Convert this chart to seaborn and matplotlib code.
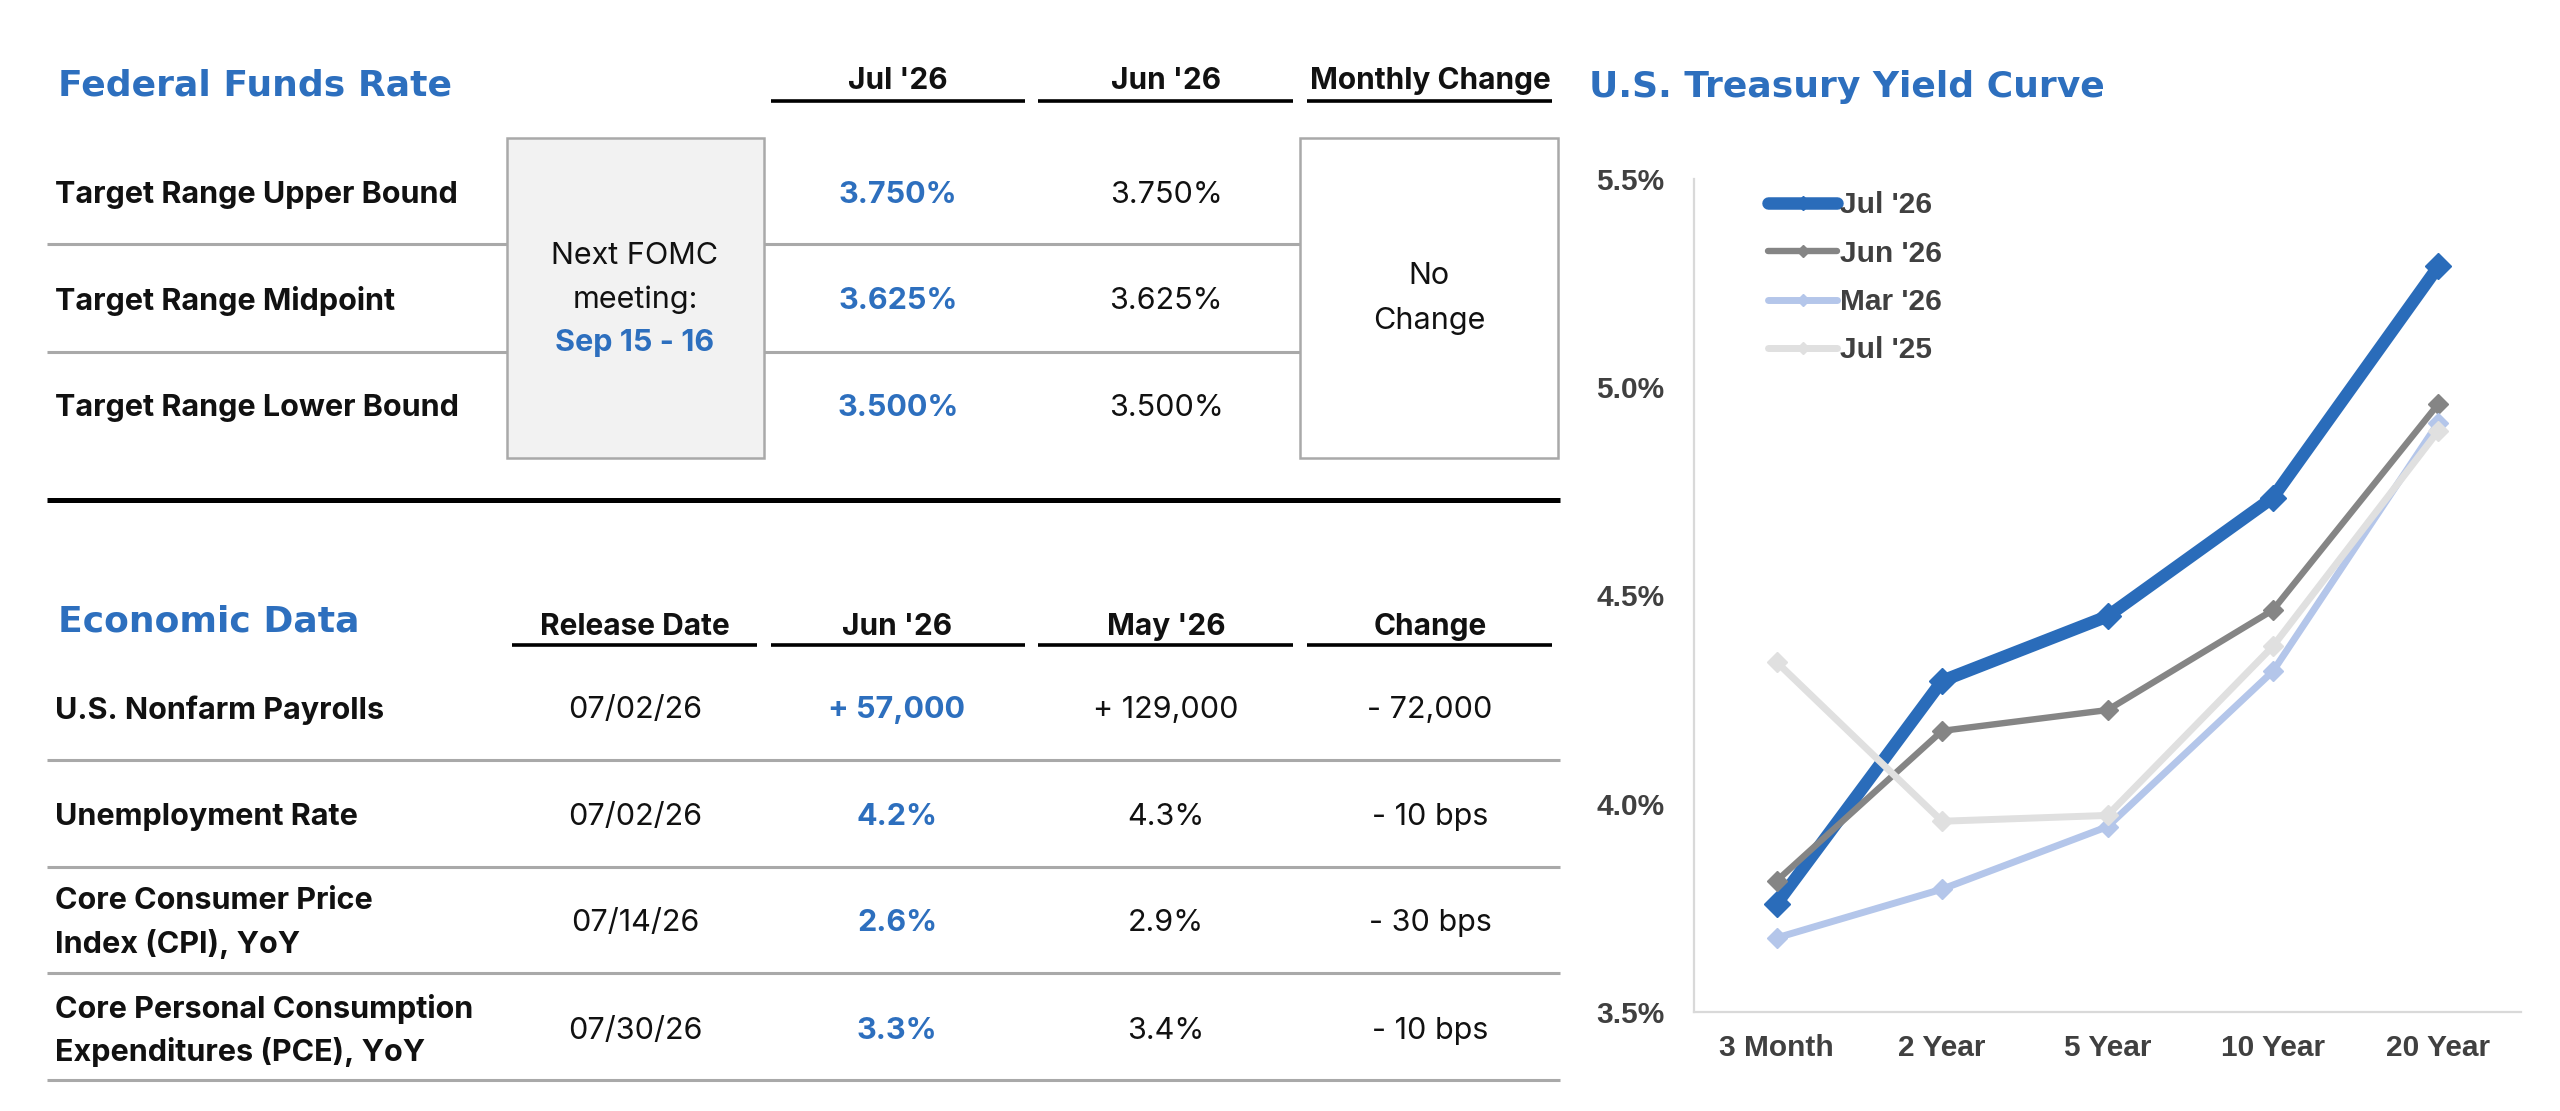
import numpy as np
import pandas as pd
import matplotlib
matplotlib.use("Agg")
import matplotlib.pyplot as plt
import seaborn as sns
from matplotlib.lines import Line2D
from matplotlib.patches import Rectangle

# ---------------- data ----------------
maturities = ["3 Month", "2 Year", "5 Year", "10 Year", "20 Year"]
series_names = ["Jul '26", "Jun '26", "Mar '26", "Jul '25"]
yield_jul26 = [3.76, 4.295, 4.45, 4.735, 5.29]
yield_jun26 = [3.815, 4.175, 4.225, 4.465, 4.96]
yield_mar26 = [3.678, 3.795, 3.945, 4.318, 4.915]
yield_jul25 = [4.34, 3.958, 3.972, 4.378, 4.895]
y_ticks = [3.5, 4.0, 4.5, 5.0, 5.5]
y_tick_labels = ["3.5%", "4.0%", "4.5%", "5.0%", "5.5%"]

fed_title = "Federal Funds Rate"
fed_headers = ["Jul '26", "Jun '26", "Monthly Change"]
fed_labels = ["Target Range Upper Bound", "Target Range Midpoint", "Target Range Lower Bound"]
fed_current = ["3.750%", "3.625%", "3.500%"]
fed_prior = ["3.750%", "3.625%", "3.500%"]
fomc_lines = ["Next FOMC", "meeting:", "Sep 15 - 16"]
monthly_change_lines = ["No", "Change"]

econ_title = "Economic Data"
econ_headers = ["Release Date", "Jun '26", "May '26", "Change"]
econ_labels = [["U.S. Nonfarm Payrolls"], ["Unemployment Rate"],
               ["Core Consumer Price", "Index (CPI), YoY"],
               ["Core Personal Consumption", "Expenditures (PCE), YoY"]]
econ_release = ["07/02/26", "07/02/26", "07/14/26", "07/30/26"]
econ_current = ["+ 57,000", "4.2%", "2.6%", "3.3%"]
econ_prior = ["+ 129,000", "4.3%", "2.9%", "3.4%"]
econ_change = ["- 72,000", "- 10 bps", "- 30 bps", "- 10 bps"]

chart_title = "U.S. Treasury Yield Curve"

# ---------------- style ----------------
BLUE = "#2d6fbe"
TXT = "#111111"
GRID = "#a9a9a9"
series_colors = ["#2a6cba", "#858585", "#b4c6ea", "#e0e0e0"]
series_lw = [9.0, 4.6, 5.0, 5.0]
series_ms = [13, 10.5, 10.5, 10.5]

sns.set_theme(style="white")
plt.rcParams["font.family"] = ["Inter", "DejaVu Sans"]

W, H = 2560, 1111
fig = plt.figure(figsize=(W / 100, H / 100), dpi=100)
fig.patch.set_facecolor("white")

# table canvas in pixel coordinates
tb = fig.add_axes([0, 0, 1, 1])
tb.set_xlim(0, W)
tb.set_ylim(H, 0)
tb.axis("off")

BODY = 22.0
TITLE_FONT = ["DejaVu Sans"]


def txt(x, y, s, ha="center", color=TXT, weight="normal", size=BODY, family=None):
    kw = {}
    if family is not None:
        kw["family"] = family
    tb.text(x, y + 3, s, ha=ha, va="center", color=color, fontsize=size,
            fontweight=weight, **kw)


def hline(x0, x1, y, color, lw):
    tb.plot([x0, x1], [y, y], color=color, lw=lw, solid_capstyle="butt")


# ---- Federal funds table ----
tb.text(58, 85, fed_title, ha="left", va="center", color=BLUE, fontsize=26,
        fontweight="bold", family=TITLE_FONT)
fed_cols = [898, 1166, 1430]
fed_under = [(771, 1025), (1038, 1293), (1307, 1552)]
for cx, (u0, u1), h in zip(fed_cols, fed_under, fed_headers):
    txt(cx, 78, h, weight="bold", size=21.5)
    hline(u0, u1, 101, "#000000", 2.6)

fed_rows = [192, 298, 405]
for y in [244, 352]:
    hline(47, 507, y, GRID, 2.2)
    hline(764, 1300, y, GRID, 2.2)
tb.add_patch(Rectangle((507, 138), 257, 320, facecolor="#f2f2f2", edgecolor=GRID, lw=1.8))
tb.add_patch(Rectangle((1300, 138), 258, 320, facecolor="white", edgecolor=GRID, lw=1.8))
for y, lab, cur, pri in zip(fed_rows, fed_labels, fed_current, fed_prior):
    txt(55, y, lab, ha="left", weight="bold")
    txt(fed_cols[0], y, cur, color=BLUE, weight="bold")
    txt(fed_cols[1], y, pri)
for y, s in zip([253, 297, 340], fomc_lines):
    if s.startswith("Sep"):
        txt(635, y, s, color=BLUE, weight="bold")
    else:
        txt(635, y, s)
for y, s in zip([273, 318], monthly_change_lines):
    txt(1429, y, s)

hline(47, 1560, 500, "#000000", 3.6)

# ---- Economic data table ----
tb.text(58, 622, econ_title, ha="left", va="center", color=BLUE, fontsize=26,
        fontweight="bold", family=TITLE_FONT)
econ_cols = [635, 897, 1166, 1430]
econ_under = [(512, 757), (771, 1025), (1038, 1293), (1307, 1552)]
for cx, (u0, u1), h in zip(econ_cols, econ_under, econ_headers):
    txt(cx, 624, h, weight="bold", size=21.5)
    hline(u0, u1, 645, "#000000", 2.6)

econ_rows = [707, 814, 920, 1028]
for y in [760, 867, 973, 1080]:
    hline(47, 1560, y, GRID, 2.2)
for y, lab, rel, cur, pri, chg in zip(econ_rows, econ_labels, econ_release,
                                      econ_current, econ_prior, econ_change):
    if len(lab) == 1:
        txt(55, y, lab[0], ha="left", weight="bold")
    else:
        txt(55, y - 22, lab[0], ha="left", weight="bold")
        txt(55, y + 21, lab[1], ha="left", weight="bold")
    txt(econ_cols[0], y, rel)
    txt(econ_cols[1], y, cur, color=BLUE, weight="bold")
    txt(econ_cols[2], y, pri)
    txt(econ_cols[3], y, chg)

# ---------------- yield curve chart ----------------
df = pd.DataFrame({
    "maturity": maturities * 4,
    "yield": yield_jul26 + yield_jun26 + yield_mar26 + yield_jul25,
    "series": sum([[s] * len(maturities) for s in series_names], []),
})

ax = fig.add_axes([1694 / W, 1 - 1012 / H, (2521 - 1694) / W, (1012 - 179) / H])
ax.set_facecolor("none")
for i, (name, col, lw, ms) in enumerate(zip(series_names, series_colors, series_lw, series_ms)):
    sub = df[df["series"] == name]
    sns.lineplot(data=sub, x="maturity", y="yield", ax=ax, color=col, linewidth=lw,
                 marker="D", markersize=ms, markeredgecolor=col, markeredgewidth=1,
                 sort=False, errorbar=None, legend=False, zorder=2 + i)

CH = "#404040"
CHFONT = ["Liberation Sans", "DejaVu Sans"]
ax.set_xlim(-0.5, len(maturities) - 0.5)
ax.set_ylim(y_ticks[0], y_ticks[-1])
ax.set_xticks(range(len(maturities)))
ax.set_xticklabels(maturities)
ax.set_xticks(np.arange(-0.5, len(maturities), 1.0), minor=True)
ax.set_yticks(y_ticks)
ax.set_yticklabels(y_tick_labels)
ax.set_xlabel("")
ax.set_ylabel("")
ax.tick_params(axis="x", which="major", length=0, pad=15.5)
ax.tick_params(axis="x", which="minor", length=7, width=1.5, color="#d9d9d9", direction="out")
ax.tick_params(axis="y", length=0, pad=21.5)
for lab in ax.get_xticklabels() + ax.get_yticklabels():
    lab.set_fontfamily(CHFONT)
    lab.set_fontweight("bold")
    lab.set_fontsize(21.5)
    lab.set_color(CH)
for sp in ["top", "right"]:
    ax.spines[sp].set_visible(False)
for sp in ["left", "bottom"]:
    ax.spines[sp].set_color("#d9d9d9")
    ax.spines[sp].set_linewidth(1.6)
ax.grid(False)

handles = [Line2D([0], [0], color=c, lw=lw, marker="D", markersize=ms * 0.55,
                  markeredgecolor=c) for c, lw, ms in zip(series_colors, series_lw, series_ms)]
leg = ax.legend(handles, series_names, loc="upper left", bbox_to_anchor=(0.09, 0.985),
                frameon=False, borderpad=0, borderaxespad=0, handlelength=2.3,
                handletextpad=0.1, labelspacing=0.68,
                prop={"family": CHFONT, "weight": "bold", "size": 21.5})
for t in leg.get_texts():
    t.set_color(CH)

tb.text(1589, 87, chart_title, ha="left", va="center", color=BLUE, fontsize=26,
        fontweight="bold", family=TITLE_FONT)

fig.savefig("out.png", dpi=100, facecolor="white")
